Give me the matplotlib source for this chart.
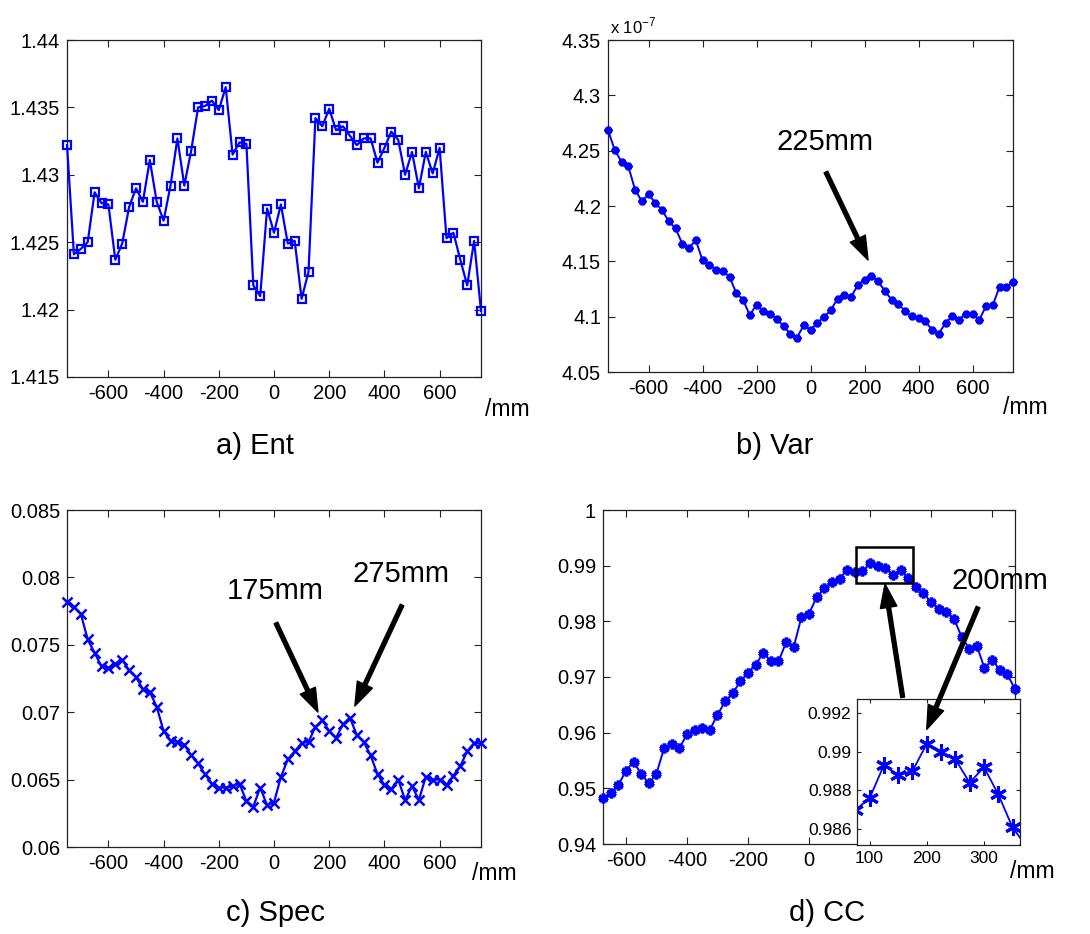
import numpy as np
import matplotlib
matplotlib.use("Agg")
import matplotlib.pyplot as plt
from matplotlib.ticker import FuncFormatter
from matplotlib.patches import Rectangle

plt.rcParams['font.family'] = ['Liberation Sans', 'DejaVu Sans']
plt.rcParams['axes.unicode_minus'] = False

# Positionen (mm), Schrittweite 25 mm
pos_full = np.arange(-750, 751, 25)
pos_cc = np.arange(-675, 676, 25)

ent = [1.4322, 1.4241, 1.4245, 1.4250, 1.4287, 1.4279, 1.4278, 1.4237, 1.4249, 1.4276,
       1.4290, 1.4280, 1.4311, 1.4280, 1.4266, 1.4292, 1.4327, 1.4292, 1.4318, 1.4350,
       1.4351, 1.4355, 1.4348, 1.4365, 1.4315, 1.4324, 1.4323, 1.4218, 1.4210, 1.4275,
       1.4257, 1.4278, 1.4249, 1.4251, 1.4208, 1.4228, 1.4342, 1.4336, 1.4349, 1.4333,
       1.4336, 1.4329, 1.4322, 1.4327, 1.4327, 1.4309, 1.4320, 1.4332, 1.4326, 1.4300,
       1.4317, 1.4290, 1.4317, 1.4301, 1.4320, 1.4253, 1.4257, 1.4237, 1.4218, 1.4251,
       1.4199]

# Varianz in Einheiten von 1e-7
var = [4.2686, 4.2505, 4.2400, 4.2360, 4.2149, 4.2044, 4.2104, 4.2029, 4.1962, 4.1863,
       4.1797, 4.1661, 4.1622, 4.1691, 4.1510, 4.1465, 4.1426, 4.1414, 4.1359, 4.1215,
       4.1154, 4.1013, 4.1109, 4.1049, 4.1022, 4.0982, 4.0913, 4.0847, 4.0811, 4.0922,
       4.0883, 4.0943, 4.0997, 4.1058, 4.1163, 4.1193, 4.1178, 4.1284, 4.1335, 4.1368,
       4.1320, 4.1233, 4.1154, 4.1118, 4.1049, 4.1003, 4.0988, 4.0958, 4.0883, 4.0847,
       4.0943, 4.1006, 4.0973, 4.1027, 4.1027, 4.0973, 4.1094, 4.1103, 4.1269, 4.1269,
       4.1314]

spec = [0.0782, 0.0778, 0.0773, 0.0754, 0.0744, 0.0734, 0.0733, 0.0736, 0.0739, 0.0731,
        0.0726, 0.0717, 0.0715, 0.0704, 0.0686, 0.0679, 0.0678, 0.0676, 0.0668, 0.0662,
        0.0654, 0.0647, 0.0644, 0.0644, 0.0645, 0.0647, 0.0634, 0.0630, 0.0644, 0.0631,
        0.0633, 0.0652, 0.0665, 0.0671, 0.0677, 0.0678, 0.0689, 0.0694, 0.0686, 0.0681,
        0.0691, 0.0696, 0.0683, 0.0678, 0.0668, 0.0654, 0.0646, 0.0643, 0.0650, 0.0635,
        0.0645, 0.0635, 0.0652, 0.0650, 0.0650, 0.0646, 0.0653, 0.0660, 0.0671, 0.0677,
        0.0677]

cc = [0.9482, 0.9491, 0.9506, 0.9531, 0.9548, 0.9526, 0.9509, 0.9526, 0.9572, 0.9580,
      0.9572, 0.9597, 0.9605, 0.9608, 0.9605, 0.9632, 0.9656, 0.9671, 0.9692, 0.9708,
      0.9722, 0.9743, 0.9729, 0.9728, 0.9762, 0.9754, 0.9807, 0.9814, 0.9843, 0.9859,
      0.9870, 0.9876, 0.9893, 0.9888, 0.9890, 0.9904, 0.9900, 0.9896, 0.9884, 0.9892,
      0.9878, 0.9861, 0.9851, 0.9834, 0.9823, 0.9817, 0.9805, 0.9772, 0.9751, 0.9756,
      0.9716, 0.9731, 0.9713, 0.9705, 0.9678]

xticks_main = [-600, -400, -200, 0, 200, 400, 600]
xticks_inset = [100, 200, 300]

W, H = 1090, 934
fig = plt.figure(figsize=(W / 100, H / 100), dpi=100)


def box(l, t, r, b):
    # Pixelkoordinaten (oben links) -> Figurenanteile
    return [l / W, 1 - b / H, (r - l) / W, (b - t) / H]


def style(ax, fs=14.5):
    ax.tick_params(direction='in', top=True, right=True, length=5, width=0.8,
                   labelsize=fs, pad=5, color='#222222')
    for s in ax.spines.values():
        s.set_linewidth(0.9)
        s.set_color('#222222')
    ax.yaxis.set_major_formatter(FuncFormatter(lambda v, p: f"{v:g}"))


blau = '#0000ff'
pfeil = dict(facecolor='black', edgecolor='black', width=2.8, headwidth=12,
             headlength=17, shrink=0)

# a) Ent
ax_a = fig.add_axes(box(67, 40, 481, 377))
ax_a.plot(pos_full, ent, color=blau, lw=1.6, marker='s', ms=5.5, mfc='none', mew=1.6,
          clip_on=False, zorder=3)
ax_a.set_xlim(-750, 750)
ax_a.set_ylim(1.415, 1.44)
ax_a.set_yticks(np.arange(1.415, 1.4401, 0.005))
ax_a.set_xticks(xticks_main)
style(ax_a)

# b) Var
ax_b = fig.add_axes(box(608, 40, 1013, 372))
ax_b.plot(pos_full, var, color=blau, lw=1.4, marker=(6, 2, 0), ms=5.5, mew=2.6,
          clip_on=False, zorder=3)
ax_b.set_xlim(-750, 750)
ax_b.set_ylim(4.05, 4.35)
ax_b.set_yticks(np.arange(4.05, 4.351, 0.05))
ax_b.set_xticks(xticks_main)
style(ax_b)
ax_b.text(0.005, 1.021, r'x 10$^{\mathregular{-7}}$', transform=ax_b.transAxes,
          fontsize=12, va='baseline', ha='left')
ax_b.text(54, 4.2578, '225mm', fontsize=21, ha='center', va='center')
ax_b.annotate('', xy=(213, 4.1512), xytext=(57, 4.2307), arrowprops=pfeil)

# c) Spec
ax_c = fig.add_axes(box(67, 510, 481, 847))
ax_c.plot(pos_full, spec, color=blau, lw=1.6, marker='x', ms=6.5, mew=1.8,
          clip_on=False, zorder=3)
ax_c.set_xlim(-750, 750)
ax_c.set_ylim(0.06, 0.085)
ax_c.set_yticks(np.arange(0.06, 0.0851, 0.005))
ax_c.set_xticks(xticks_main)
style(ax_c)
ax_c.text(3.6, 0.0790, '175mm', fontsize=21, ha='center', va='center')
ax_c.annotate('', xy=(159, 0.07001), xytext=(7, 0.07662), arrowprops=pfeil)
ax_c.text(460, 0.08025, '275mm', fontsize=21, ha='center', va='center')
ax_c.annotate('', xy=(293, 0.07046), xytext=(464, 0.07795), arrowprops=pfeil)

# d) CC
ax_d = fig.add_axes(box(603, 510, 1015, 844))
ax_d.plot(pos_cc, cc, color=blau, lw=1.4, marker=(6, 2, 0), ms=7, mew=2.6,
          clip_on=False, zorder=3)
ax_d.set_xlim(-675, 675)
ax_d.set_ylim(0.94, 1.0)
ax_d.set_yticks(np.arange(0.94, 1.0001, 0.01))
ax_d.set_xticks(xticks_main)
# rechte Beschriftungen liegen hinter dem Ausschnitt
ax_d.set_xticklabels([str(t) if t <= 0 else '' for t in xticks_main])
style(ax_d)
ax_d.add_patch(Rectangle((153, 0.98695), 189, 0.00634, fill=False, lw=1.8,
                         edgecolor='black', zorder=5))
ax_d.text(626, 0.98725, '200mm', fontsize=21, ha='center', va='center')
ax_d.annotate('', xy=(249, 0.98671), xytext=(307, 0.96635), arrowprops=pfeil)

# Ausschnitt
ax_in = fig.add_axes(box(857, 699, 1020, 845))
ax_in.plot(pos_cc, cc, color=blau, lw=1.3, marker=(6, 2, 0), ms=12, mew=2.2)
ax_in.set_xlim(78, 363)
ax_in.set_ylim(0.9852, 0.9927)
ax_in.set_xticks(xticks_inset)
ax_in.set_yticks([0.986, 0.988, 0.99, 0.992])
style(ax_in, fs=12.5)
ax_in.tick_params(length=3, pad=4)
an = ax_in.annotate('', xy=(200, 0.99114), xytext=(554, 0.98257),
                    textcoords=ax_d.transData, arrowprops=pfeil, annotation_clip=False)
an.arrow_patch.set_clip_on(False)

# Achsbeschriftungen und Titel
for x, y in [(485, 410), (1003, 408), (472, 874), (1010, 871)]:
    fig.text(x / W, 1 - y / H, '/mm', fontsize=16.5, ha='left', va='center')

for x, y, t in [(255, 446, 'a) Ent'), (775, 446, 'b) Var'),
                (275, 913, 'c) Spec'), (827, 913, 'd) CC')]:
    fig.text(x / W, 1 - y / H, t, fontsize=21, ha='center', va='center')

fig.savefig('out.png', dpi=100)
